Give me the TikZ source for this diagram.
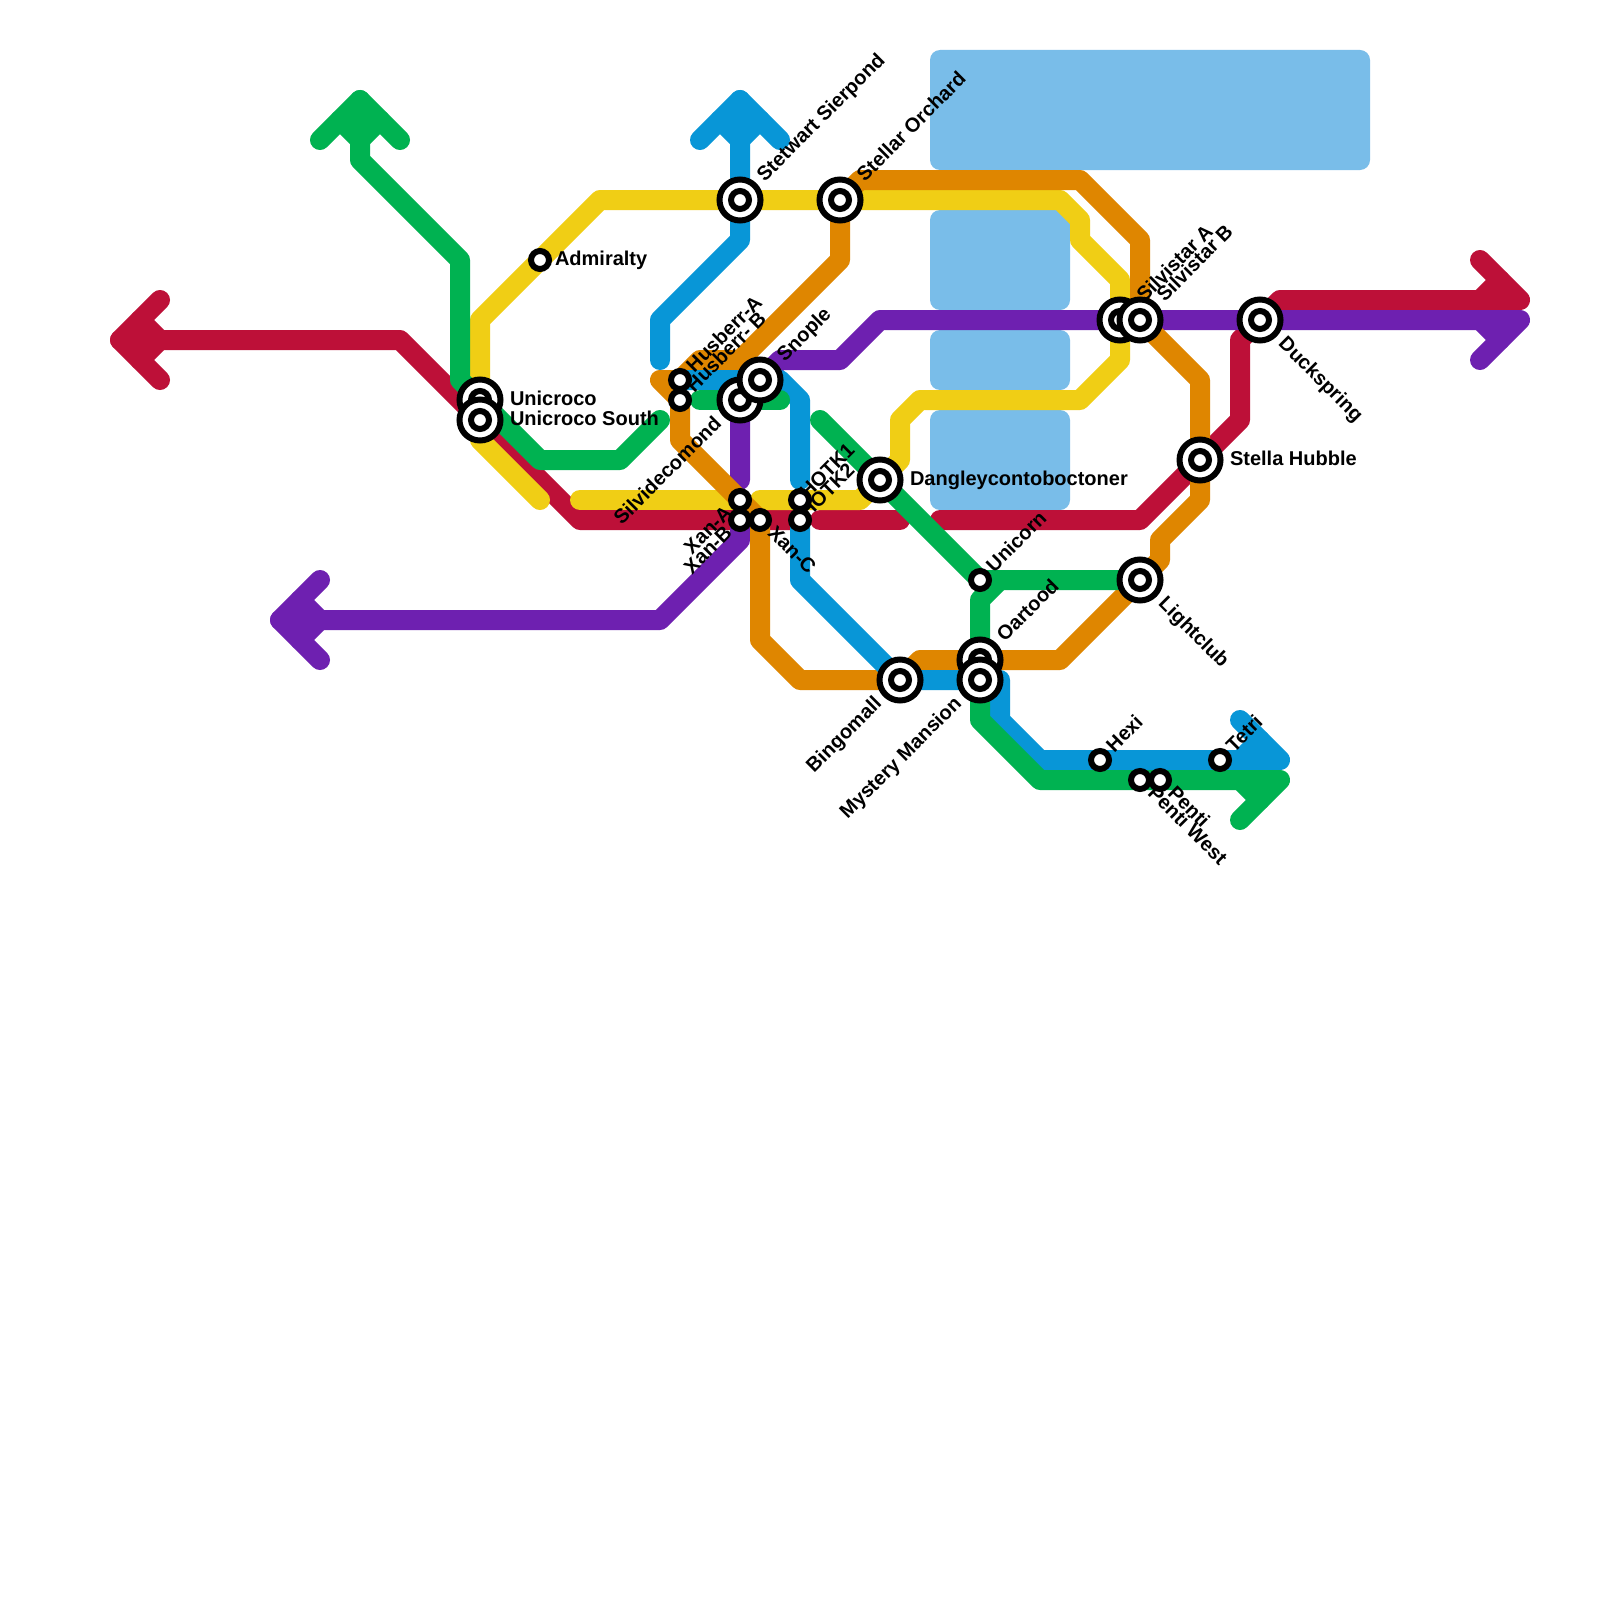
\documentclass[tikz,border=0pt]{standalone}
\usepackage{fontspec}
\setmainfont{Liberation Sans}
\definecolor{cred}{HTML}{BD1038}
\definecolor{cgreen}{HTML}{00B251}
\definecolor{cblue}{HTML}{0896D7}
\definecolor{cyellow}{HTML}{F0CE15}
\definecolor{corange}{HTML}{DF8600}
\definecolor{cpurple}{HTML}{6E20B0}
\definecolor{cwater}{HTML}{79BDE9}
\tikzset{
  rail/.style={line width=10pt,line cap=round,line join=round},
  water/.style={fill=cwater,rounded corners=5pt},
  smallsta/.style={circle,draw=black,fill=white,line width=3pt,minimum size=9pt,inner sep=0pt,outer sep=0pt},
  bigsta/.style={circle,draw=black,fill=white,line width=3pt,minimum size=20.5pt,inner sep=0pt,outer sep=0pt,
    label={[smallsta]center:{}}},
  lab/.style={font=\bfseries\fontsize{10pt}{10pt}\selectfont,inner sep=0pt,outer sep=0pt,text height=7.2pt,text depth=0pt},
  Ebig/.style={lab,anchor=west,xshift=15pt,yshift=1pt},
  Esm/.style={lab,anchor=west,xshift=7.5pt,yshift=1pt},
  NEbig/.style={lab,rotate=45,anchor=west,xshift=15pt,yshift=1pt},
  NEsm/.style={lab,rotate=45,anchor=west,xshift=7.5pt,yshift=1pt},
  NEtight/.style={lab,rotate=45,anchor=west,xshift=3pt,yshift=1pt},
  SWbig/.style={lab,rotate=45,anchor=east,xshift=-15pt,yshift=1pt},
  SWsm/.style={lab,rotate=45,anchor=east,xshift=-7.5pt,yshift=1pt},
  SEbig/.style={lab,rotate=-45,anchor=west,xshift=15pt,yshift=1pt},
  SEsm/.style={lab,rotate=-45,anchor=west,xshift=7.5pt,yshift=1pt},
}
\begin{document}
\begin{tikzpicture}[x=0.5pt,y=-0.5pt]
\useasboundingbox[fill=white] (0,0) rectangle (1600,1600);
% station positions
\coordinate (pAdm) at (540,260);
\coordinate (pUni) at (480,400);
\coordinate (pUniS) at (480,420);
\coordinate (pStew) at (740,200);
\coordinate (pStel) at (840,200);
\coordinate (pHusA) at (680,380);
\coordinate (pHusB) at (680,400);
\coordinate (pSilv) at (740,400);
\coordinate (pSnop) at (760,380);
\coordinate (pXanA) at (740,500);
\coordinate (pXanB) at (740,520);
\coordinate (pXanC) at (760,520);
\coordinate (pHotA) at (800,500);
\coordinate (pHotB) at (800,520);
\coordinate (pDang) at (880,480);
\coordinate (pUnic) at (980,580);
\coordinate (pOart) at (980,660);
\coordinate (pMyst) at (980,680);
\coordinate (pBing) at (900,680);
\coordinate (pLight) at (1140,580);
\coordinate (pHexi) at (1100,760);
\coordinate (pTetri) at (1220,760);
\coordinate (pPenW) at (1140,780);
\coordinate (pPen) at (1160,780);
\coordinate (pSilA) at (1120,320);
\coordinate (pSilB) at (1140,320);
\coordinate (pDuck) at (1260,320);
\coordinate (pHubb) at (1200,460);
% water
\fill[water] (930,50) rectangle (1370,170);
\fill[water] (930,210) rectangle (1070,310);
\fill[water] (930,330) rectangle (1070,390);
\fill[water] (930,410) rectangle (1070,510);
% red
\draw[rail,cred] (160,300) -- (120,340) -- (160,380);
\draw[rail,cred] (140,320) -- (160,340) -- (140,360);
\draw[rail,cred] (120,340) -- (400,340) -- (pUniS) -- (580,520) -- (pXanB) -- (pXanC) -- (pHotB);
\draw[rail,cred] (820,520) -- (900,520);
\draw[rail,cred] (940,520) -- (1140,520) -- (pHubb) -- (1240,420) -- (1240,340) -- (pDuck) -- (1280,300) -- (1520,300) -- (1480,260);
\draw[rail,cred] (1480,300) -- (1500,280);
% yellow
\draw[rail,cyellow] (540,500) -- (480,440) -- (pUniS) -- (pUni) -- (480,320) -- (pAdm) -- (600,200) -- (pStew) -- (pStel) -- (1060,200) -- (1080,220) -- (1080,240) -- (1120,280) -- (pSilA) -- (1120,360) -- (1080,400) -- (920,400) -- (900,420) -- (900,460) -- (pDang) -- (860,500) -- (760,500);
\draw[rail,cyellow] (580,500) -- (pXanA);
% purple
\draw[rail,cpurple] (320,580) -- (280,620) -- (320,660);
\draw[rail,cpurple] (300,600) -- (320,620) -- (300,640);
\draw[rail,cpurple] (280,620) -- (660,620) -- (740,540) -- (pXanB);
\draw[rail,cpurple] (740,480) -- (pSilv) -- (pSnop) -- (780,360) -- (840,360) -- (880,320) -- (pSilA) -- (pSilB) -- (pDuck) -- (1520,320) -- (1480,360);
\draw[rail,cpurple] (1480,320) -- (1500,340);
% orange
\draw[rail,corange] (pStel) -- (860,180) -- (1080,180) -- (1140,240) -- (pSilB) -- (1200,380) -- (pHubb) -- (1200,500) -- (1160,540) -- (1160,560) -- (pLight) -- (1060,660) -- (pOart) -- (920,660) -- (pBing) -- (800,680) -- (760,640) -- (pXanC) -- (pXanA) -- (680,440) -- (pHusB) -- (660,380) -- (pHusA) -- (700,360) -- (740,360) -- (840,260) -- (pStel);
% blue
\draw[rail,cblue] (700,140) -- (740,100) -- (780,140);
\draw[rail,cblue] (720,120) -- (740,140) -- (760,120);
\draw[rail,cblue] (740,100) -- (pStew) -- (740,240) -- (660,320) -- (660,360);
\draw[rail,cblue] (pHusA) -- (pSnop) -- (780,380) -- (800,400) -- (800,480);
\draw[rail,cblue] (pHotB) -- (800,580) -- (pBing) -- (pMyst) -- (1000,680) -- (1000,720) -- (1040,760) -- (pHexi) -- (pTetri) -- (1280,760) -- (1240,720);
\draw[rail,cblue] (1240,760) -- (1260,740);
% green
\draw[rail,cgreen] (320,140) -- (360,100) -- (400,140);
\draw[rail,cgreen] (340,120) -- (360,140) -- (380,120);
\draw[rail,cgreen] (360,100) -- (360,160) -- (460,260) -- (460,380) -- (pUni) -- (540,460) -- (620,460) -- (660,420);
\draw[rail,cgreen] (700,400) -- (780,400);
\draw[rail,cgreen] (820,420) -- (pDang) -- (pUnic) -- (pLight);
\draw[rail,cgreen] (1000,580) -- (980,600) -- (pOart) -- (pMyst) -- (980,720) -- (1040,780) -- (pPenW) -- (pPen) -- (1280,780) -- (1240,820);
\draw[rail,cgreen] (1240,780) -- (1260,800);
% labels
\node[Esm] (lAdm) at (pAdm) {Admiralty};
\node[Ebig] (lUni) at (pUni) {Unicroco};
\node[Ebig] (lUniS) at (pUniS) {Unicroco South};
\node[Ebig] (lDang) at (pDang) {Dangleycontoboctoner};
\node[Ebig] (lHubb) at (pHubb) {Stella Hubble};
\node[NEbig] (lStew) at (pStew) {Stetwart Sierpond};
\node[NEbig] (lStel) at (pStel) {Stellar Orchard};
\node[NEsm] (lHusA) at (pHusA) {Husberr-A};
\node[NEsm] (lHusB) at (pHusB) {Husberr- B};
\node[NEbig] (lSnop) at (pSnop) {Snople};
\node[SWbig] (lSilv) at (pSilv) {Silvidecomond};
\node[SWsm] (lXanA) at (pXanA) {Xan-A};
\node[SWsm] (lXanB) at (pXanB) {Xan-B};
\node[SEsm] (lXanC) at (pXanC) {Xan-C};
\node[NEtight] (lHotA) at (pHotA) {HOTK1};
\node[NEtight] (lHotB) at (pHotB) {HOTK2};
\node[NEsm] (lUnic) at (pUnic) {Unicorn};
\node[NEbig] (lOart) at (pOart) {Oartood};
\node[SWbig] (lBing) at (pBing) {Bingomall};
\node[SWbig] (lMyst) at (pMyst) {Mystery Mansion};
\node[SEbig] (lLight) at (pLight) {Lightclub};
\node[NEsm] (lHexi) at (pHexi) {Hexi};
\node[NEsm] (lTetri) at (pTetri) {Tetri};
\node[SEsm] (lPenW) at (pPenW) {Penti West};
\node[SEsm] (lPen) at (pPen) {Penti};
\node[NEbig] (lSilA) at (pSilA) {Silvistar A};
\node[NEbig] (lSilB) at (pSilB) {Silvistar B};
\node[SEbig] (lDuck) at (pDuck) {Duckspring};
% stations
\node[smallsta] (Adm) at (pAdm) {};
\node[bigsta] (Uni) at (pUni) {};
\node[bigsta] (UniS) at (pUniS) {};
\node[bigsta] (Stew) at (pStew) {};
\node[bigsta] (Stel) at (pStel) {};
\node[smallsta] (HusA) at (pHusA) {};
\node[smallsta] (HusB) at (pHusB) {};
\node[bigsta] (Silv) at (pSilv) {};
\node[bigsta] (Snop) at (pSnop) {};
\node[smallsta] (XanA) at (pXanA) {};
\node[smallsta] (XanB) at (pXanB) {};
\node[smallsta] (XanC) at (pXanC) {};
\node[smallsta] (HotA) at (pHotA) {};
\node[smallsta] (HotB) at (pHotB) {};
\node[bigsta] (Dang) at (pDang) {};
\node[smallsta] (Unic) at (pUnic) {};
\node[bigsta] (Oart) at (pOart) {};
\node[bigsta] (Myst) at (pMyst) {};
\node[bigsta] (Bing) at (pBing) {};
\node[bigsta] (Light) at (pLight) {};
\node[smallsta] (Hexi) at (pHexi) {};
\node[smallsta] (Tetri) at (pTetri) {};
\node[smallsta] (PenW) at (pPenW) {};
\node[smallsta] (Pen) at (pPen) {};
\node[bigsta] (SilA) at (pSilA) {};
\node[bigsta] (SilB) at (pSilB) {};
\node[bigsta] (Duck) at (pDuck) {};
\node[bigsta] (Hubb) at (pHubb) {};
\end{tikzpicture}
\end{document}
